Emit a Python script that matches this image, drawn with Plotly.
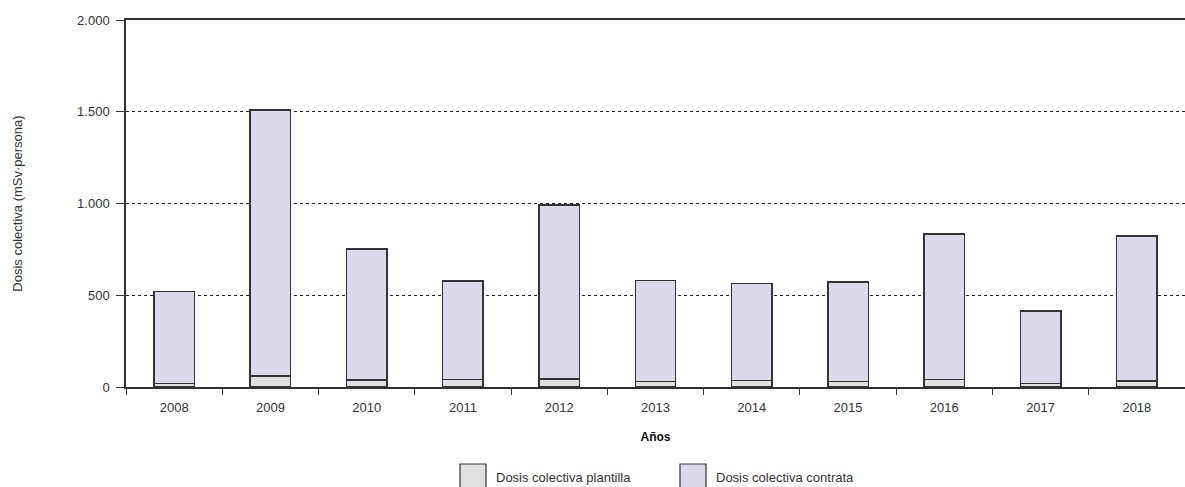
import plotly.graph_objects as go

years = ["2008", "2009", "2010", "2011", "2012", "2013", "2014", "2015", "2016", "2017", "2018"]
plantilla = [19, 60, 38, 40, 44, 30, 36, 30, 42, 18, 33]
total = [520, 1510, 752, 578, 992, 580, 563, 573, 834, 414, 823]
contrata = [t - p for t, p in zip(total, plantilla)]

y_ticks = [0, 500, 1000, 1500, 2000]

FONT = "Liberation Sans, Arial, sans-serif"
TXT = "#333333"
C_PLANT = "#e0e0e0"
C_CONT = "#dcd9ec"
EDGE = "#333333"

fig = go.Figure()
fig.add_trace(go.Bar(x=years, y=plantilla, name="Dosis colectiva plantilla",
                     marker=dict(color=C_PLANT, line=dict(color=EDGE, width=1.5))))
fig.add_trace(go.Bar(x=years, y=contrata, name="Dosis colectiva contrata",
                     marker=dict(color=C_CONT, line=dict(color=EDGE, width=1.5))))

fig.update_layout(
    barmode="stack",
    bargap=0.58,
    width=1185, height=487,
    margin=dict(l=126, r=0, t=20, b=100),
    plot_bgcolor="white", paper_bgcolor="white",
    showlegend=False,
    separators=",.",
    font=dict(family=FONT, size=13, color=TXT),
)
fig.update_xaxes(
    type="category",
    tickson="boundaries",
    ticks="outside", ticklen=6, tickcolor=EDGE, tickwidth=1,
    ticklabelstandoff=8,
    showline=True, linecolor=EDGE, linewidth=1.5, mirror=True,
    showgrid=False,
    tickfont=dict(size=13, color=TXT),
    title=dict(text="<b>Años</b>", font=dict(size=12, color="#111"), standoff=18),
)
fig.update_yaxes(
    range=[0, 2000],
    tickmode="array", tickvals=y_ticks, tickformat=",d",
    ticks="outside", ticklen=8, tickcolor=EDGE, tickwidth=1,
    ticklabelstandoff=4,
    showline=True, linecolor=EDGE, linewidth=1.5,
    showgrid=True, gridcolor="#222222", griddash="dot", gridwidth=1,
    zeroline=False,
    tickfont=dict(size=13, color=TXT),
    title=dict(text="Dosis colectiva (mSv·persona)", font=dict(size=13, color=TXT), standoff=52),
)

# custom legend
def px_x(x):
    return (x - 126) / 1059

def px_y(y):
    return (387 - y) / 367

legend_items = [("Dosis colectiva plantilla", C_PLANT, 460), ("Dosis colectiva contrata", C_CONT, 680)]
for label, col, x0 in legend_items:
    fig.add_shape(type="rect", xref="paper", yref="paper",
                  x0=px_x(x0), x1=px_x(x0 + 26), y0=px_y(464), y1=px_y(490),
                  fillcolor=col, line=dict(color=EDGE, width=1.2), layer="above")
    fig.add_annotation(xref="paper", yref="paper", x=px_x(x0 + 34), y=px_y(477),
                       text=label, showarrow=False, xanchor="left", yanchor="middle",
                       font=dict(size=13, color=TXT))

fig.write_html("out.html", config={"displayModeBar": False},
               post_script="document.body.style.margin='0';document.body.style.overflow='hidden';")
